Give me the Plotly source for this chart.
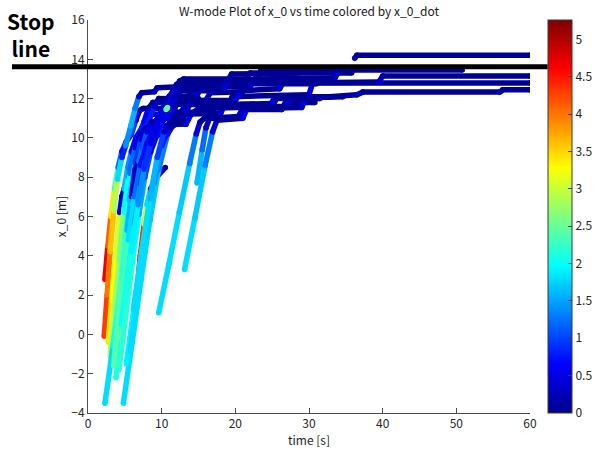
import plotly.graph_objects as go
from plotly.colors import sample_colorscale

# ---- data: each trajectory is a list of (time [s], x_0 [m], x_0_dot [m/s])
traj_red_mid = [(6.1, 0.0, 4.8), (6.6, 2.0, 4.9), (7.1, 4.0, 4.7), (7.6, 5.6, 4.3), (8.0, 6.6, 3.0),
                (8.5, 7.4, 1.8), (9.3, 8.0, 0.5), (10.5, 8.5, 0.2)]
traj_a1 = [(2.3, 2.8, 4.9), (2.7, 4.5, 4.7), (3.1, 6.0, 4.1), (3.6, 7.4, 3.4), (4.1, 8.5, 2.3), (4.6, 9.3, 1.2),
           (5.2, 9.8, 0.5), (5.9, 10.2, 0.3), (6.5, 10.9, 1.0), (7.0, 11.4, 0.6), (7.5, 11.5, 0.05), (10.5, 11.5, 0.05)]
traj_a2 = [(2.2, -0.1, 4.4), (2.6, 2.0, 4.3), (3.0, 4.2, 4.0), (3.5, 6.3, 3.6), (4.0, 7.9, 2.9), (4.6, 9.0, 1.8),
           (5.1, 9.6, 0.8), (5.8, 10.6, 1.4), (6.4, 11.5, 1.6), (6.9, 12.1, 1.3), (7.3, 12.3, 0.3), (9.0, 12.35, 0.05),
           (9.4, 12.55, 0.4), (12.5, 12.6, 0.05)]
traj_a3 = [(2.75, -0.4, 3.4), (3.2, 1.7, 3.4), (3.7, 3.9, 3.3), (4.3, 6.2, 3.1), (4.6, 7.0, 0.6), (4.9, 7.4, 0.3),
           (5.4, 8.5, 1.6), (5.9, 9.3, 1.4), (6.5, 10.0, 0.7), (7.3, 10.5, 0.6), (7.9, 11.0, 0.6), (8.4, 11.2, 0.05),
           (11.5, 11.2, 0.05), (12.0, 11.7, 0.5), (15.5, 11.8, 0.05)]
traj_a4 = [(3.0, -1.1, 2.9), (3.6, 1.2, 2.9), (4.3, 3.8, 2.8), (5.0, 6.2, 2.6), (5.7, 8.2, 2.0), (6.4, 9.5, 1.2),
           (7.1, 10.2, 0.5), (8.0, 10.6, 0.3), (9.0, 11.6, 0.8), (9.6, 12.0, 0.3), (13.5, 12.0, 0.05),
           (14.0, 12.5, 0.5), (18.0, 12.6, 0.05)]
traj_a5 = [(3.3, -0.9, 2.5), (4.0, 1.5, 2.5), (4.8, 4.2, 2.5), (5.6, 6.8, 2.3), (6.4, 8.7, 1.7), (7.2, 9.9, 1.0),
           (8.0, 10.5, 0.4), (9.6, 10.6, 0.05), (10.2, 11.4, 0.8), (11.0, 12.1, 0.6), (11.6, 12.4, 0.2),
           (17.0, 12.4, 0.05), (17.6, 12.8, 0.4), (23.0, 12.85, 0.05), (23.5, 13.45, 0.5), (50.8, 13.45, 0.05)]
traj_a6 = [(2.3, -3.5, 1.6), (3.4, -0.6, 1.8), (4.5, 2.4, 2.0), (5.5, 5.2, 2.0), (6.5, 7.8, 1.7), (7.4, 9.4, 1.1),
           (8.3, 10.2, 0.5), (9.4, 10.4, 0.1), (10.0, 11.0, 0.6), (11.0, 11.8, 0.6), (12.0, 12.3, 0.3),
           (12.5, 12.9, 0.5), (13.0, 13.0, 0.1), (21.5, 13.0, 0.05), (22.0, 13.3, 0.4), (35.8, 13.3, 0.05)]
traj_a7 = [(4.8, -3.5, 1.7), (6.0, -0.4, 1.8), (7.2, 2.8, 1.8), (8.4, 5.8, 1.8), (9.6, 8.4, 1.7), (10.8, 10.2, 1.3),
           (11.8, 10.8, 0.4), (12.8, 10.9, 0.1), (13.5, 11.5, 0.6), (14.2, 11.9, 0.3), (20.0, 11.9, 0.05),
           (20.8, 12.4, 0.5), (26.0, 12.5, 0.05), (26.5, 12.8, 0.4), (39.5, 12.85, 0.05), (40.0, 13.15, 0.4),
           (60.0, 13.15, 0.05)]
traj_a8 = [(3.6, -1.4, 2.2), (4.4, 1.0, 2.3), (5.3, 3.8, 2.3), (6.2, 6.3, 2.1), (7.0, 8.2, 1.6), (7.8, 9.4, 0.9),
           (8.6, 10.0, 0.3), (10.5, 10.3, 0.05), (11.2, 10.9, 0.6), (12.0, 11.3, 0.3), (17.0, 11.3, 0.05)]
traj_a9 = [(3.8, -2.2, 2.0), (4.8, 0.7, 2.1), (5.8, 3.6, 2.1), (6.8, 6.4, 2.0), (7.8, 8.7, 1.6), (8.8, 10.1, 0.9),
           (9.8, 10.6, 0.3), (12.0, 10.7, 0.05), (12.6, 11.3, 0.6), (13.3, 11.7, 0.3), (19.0, 11.7, 0.05),
           (19.6, 12.1, 0.4), (30.0, 12.2, 0.05), (30.5, 12.8, 0.5), (60.0, 12.8, 0.05)]
traj_a10 = [(5.7, -0.9, 1.7), (6.8, 2.0, 1.8), (7.9, 5.0, 1.8), (9.0, 7.7, 1.7), (10.0, 9.6, 1.4), (11.0, 10.5, 0.7),
            (12.0, 10.7, 0.1), (13.3, 10.7, 0.05), (14.0, 11.2, 0.6), (15.0, 11.5, 0.2), (25.0, 11.6, 0.05),
            (25.6, 12.0, 0.4), (34.6, 12.1, 0.05)]
traj_a11 = [(3.5, -1.6, 2.3), (4.0, 0.5, 2.4), (4.6, 2.8, 2.4), (5.3, 5.3, 2.2), (5.9, 7.0, 1.6), (6.4, 8.4, 0.3),
            (6.9, 8.8, 0.3), (7.4, 9.5, 1.3), (8.0, 10.3, 1.1), (8.6, 10.8, 0.5), (10.8, 11.0, 0.05),
            (11.4, 11.6, 0.6), (12.2, 12.0, 0.2), (15.0, 12.0, 0.05)]
traj_a12 = [(6.15, 1.27, 1.8), (7.3, 4.2, 1.8), (8.4, 6.9, 1.8), (9.4, 9.0, 1.6), (10.3, 10.3, 1.0),
            (11.2, 10.8, 0.3), (13.0, 10.9, 0.05)]
traj_a13 = [(3.1, -0.6, 3.0), (3.7, 1.8, 3.0), (4.3, 4.2, 2.9), (4.9, 6.4, 2.7), (5.5, 8.0, 2.1), (6.1, 9.2, 1.3),
            (6.8, 10.0, 0.6), (7.6, 10.8, 0.8), (8.2, 11.5, 0.6), (8.8, 11.8, 0.05), (16.0, 11.9, 0.05),
            (16.6, 12.3, 0.4), (21.0, 12.35, 0.05)]
traj_a14 = [(4.2, -1.8, 2.1), (5.1, 0.9, 2.2), (6.0, 3.6, 2.2), (6.9, 6.1, 2.0), (7.7, 8.0, 1.5), (8.5, 9.3, 1.0),
            (9.3, 10.1, 0.5), (10.2, 10.9, 0.7), (10.9, 11.6, 0.5), (11.5, 12.2, 0.4), (12.0, 12.7, 0.4),
            (12.5, 12.9, 0.05), (19.0, 12.95, 0.05), (19.5, 13.25, 0.4), (28.5, 13.3, 0.05)]
traj_a15 = [(5.2, -1.5, 1.9), (6.3, 1.5, 1.9), (7.4, 4.4, 1.9), (8.5, 7.0, 1.8), (9.5, 9.0, 1.4), (10.4, 10.2, 0.9),
            (11.3, 10.9, 0.4), (12.3, 11.2, 0.05), (18.0, 11.25, 0.05), (18.6, 11.7, 0.5), (24.9, 11.75, 0.05),
            (25.4, 12.1, 0.4), (33.0, 12.1, 0.05)]
traj_a16 = [(4.5, 0.5, 2.0), (5.4, 3.0, 2.0), (6.3, 5.6, 1.9), (7.1, 7.6, 1.5), (7.8, 8.9, 1.0), (8.6, 9.9, 0.8),
            (9.4, 10.5, 0.5), (10.5, 11.2, 0.6), (11.5, 11.9, 0.5), (12.5, 12.4, 0.3), (13.2, 12.6, 0.05),
            (22.0, 12.6, 0.05), (22.6, 13.0, 0.4), (33.5, 13.05, 0.05), (34.2, 13.45, 0.4), (36.0, 13.45, 0.05)]
traj_a17 = [(3.9, 0.8, 2.6), (4.6, 3.2, 2.6), (5.3, 5.5, 2.4), (6.0, 7.4, 1.9), (6.7, 8.7, 1.1), (7.5, 9.6, 0.7),
            (8.4, 10.3, 0.5), (9.3, 10.9, 0.5), (10.1, 11.5, 0.5), (10.8, 11.9, 0.3), (11.8, 12.1, 0.05),
            (14.8, 12.15, 0.05), (15.3, 12.6, 0.4), (20.0, 12.7, 0.05)]
traj_a18 = [(4.0, -0.2, 2.4), (4.7, 2.2, 2.4), (5.5, 4.8, 2.3), (6.3, 7.0, 1.8), (7.1, 8.6, 1.2), (8.0, 9.7, 0.7),
            (9.0, 10.5, 0.5), (10.0, 11.2, 0.5), (11.0, 11.8, 0.5), (12.0, 12.3, 0.4), (13.0, 12.7, 0.3),
            (14.0, 12.75, 0.05), (31.0, 12.75, 0.05)]
traj_a19 = [(5.0, 1.6, 2.1), (5.9, 4.2, 2.1), (6.8, 6.6, 1.9), (7.6, 8.4, 1.4), (8.5, 9.7, 0.9), (9.5, 10.6, 0.5),
            (10.6, 11.4, 0.5), (11.8, 12.1, 0.4), (13.0, 12.5, 0.2), (18.5, 12.55, 0.05), (19.0, 12.95, 0.4),
            (33.0, 13.0, 0.05)]
traj_b1 = [(9.6, 1.1, 1.7), (11.0, 3.6, 1.8), (12.4, 6.2, 1.8), (13.8, 8.7, 1.7), (14.7, 10.2, 1.3),
           (15.2, 10.8, 0.5), (15.8, 11.0, 0.1), (20.3, 11.0, 0.05), (20.9, 11.45, 0.5), (26.3, 11.45, 0.05),
           (26.8, 11.8, 0.4), (30.8, 11.8, 0.05)]
traj_b2 = [(13.1, 3.3, 1.7), (14.5, 5.9, 1.8), (15.9, 8.6, 1.7), (16.9, 10.3, 1.3), (17.5, 10.9, 0.4),
           (21.0, 11.0, 0.05), (21.6, 11.5, 0.5), (29.0, 11.55, 0.05), (29.6, 12.0, 0.4), (36.5, 12.2, 0.1),
           (37.3, 12.33, 0.3), (55.9, 12.33, 0.05), (56.3, 12.45, 0.4), (60.0, 12.45, 0.05)]
traj_b3 = [(14.8, 7.7, 1.6), (15.5, 9.4, 1.6), (16.0, 10.5, 1.2), (16.5, 11.0, 0.3), (21.0, 11.1, 0.05),
           (21.6, 11.6, 0.4), (27.0, 11.6, 0.05), (27.5, 12.0, 0.4), (31.5, 12.0, 0.05)]
traj_top = [(36.2, 14.05, 0.8), (36.5, 14.2, 0.3), (60.0, 14.2, 0.05)]
traj_dot = [(10.6, 11.45, 2.5), (10.8, 11.55, 2.5)]

STOP_LINE_X0 = 13.62
V_MAX = 5.26
x_ticks = [0, 10, 20, 30, 40, 50, 60]
y_ticks = [-4, -2, 0, 2, 4, 6, 8, 10, 12, 14, 16]
cbar_ticks = [0, 0.5, 1, 1.5, 2, 2.5, 3, 3.5, 4, 4.5, 5]

trajectories = [traj_red_mid, traj_a1, traj_a2, traj_a3, traj_a13, traj_a4, traj_a5, traj_a17, traj_a6, traj_a8,
                traj_a9, traj_a11, traj_a18, traj_a16, traj_a14, traj_a19, traj_a7, traj_a15, traj_a10, traj_a12,
                traj_b1, traj_b3, traj_b2, traj_top, traj_dot]

JET = [[0.0, 'rgb(0,0,140)'], [0.125, 'rgb(0,0,255)'], [0.375, 'rgb(0,255,255)'],
       [0.625, 'rgb(255,255,0)'], [0.875, 'rgb(255,0,0)'], [1.0, 'rgb(128,0,0)']]

FONT = "Noto Sans CJK JP"
LW = 5.5

fig = go.Figure()
for tr in trajectories:
    for k in range(len(tr) - 1):
        t0, x0, _ = tr[k]
        t1, x1, v1 = tr[k + 1]
        c = sample_colorscale(JET, [min(max(v1 / V_MAX, 0), 1)])[0]
        fig.add_trace(go.Scatter(
            x=[t0, t1], y=[x0, x1], mode='lines+markers',
            line=dict(color=c, width=LW),
            marker=dict(color=c, size=LW, line=dict(width=0)),
            showlegend=False, hoverinfo='skip'))

# colorbar carrier
all_t = [p[0] for tr in trajectories for p in tr]
all_x = [p[1] for tr in trajectories for p in tr]
all_v = [p[2] for tr in trajectories for p in tr]
fig.add_trace(go.Scatter(
    x=all_t, y=all_x, mode='markers', showlegend=False, hoverinfo='skip',
    marker=dict(color=all_v, colorscale=JET, cmin=0, cmax=V_MAX, size=0.1, opacity=0,
                showscale=True,
                colorbar=dict(x=1.0407, xanchor='left', xpad=0, y=0.5, yanchor='middle', len=1.0,
                              lenmode='fraction', thickness=24, thicknessmode='pixels',
                              outlinewidth=1, outlinecolor='#3a3a3a',
                              tickvals=cbar_ticks, ticks='inside', ticklen=4, tickcolor='#3a3a3a',
                              tickfont=dict(family=FONT, size=12, color='#262626'),
                              ypad=0))))

fig.add_shape(type='line', xref='paper', yref='y', x0=-0.172, x1=1.04, y0=STOP_LINE_X0, y1=STOP_LINE_X0,
              line=dict(color='black', width=5), layer='above')

fig.add_annotation(text="<b>Stop<br>line</b>", xref='paper', yref='paper', x=-0.129, y=0.963,
                   xanchor='center', yanchor='middle', showarrow=False, align='center',
                   font=dict(family=FONT, size=21, color='black'))

fig.update_layout(
    width=597, height=458,
    margin=dict(l=88, r=67, t=20, b=45, autoexpand=False),
    paper_bgcolor='white', plot_bgcolor='white',
    title=dict(text="W-mode Plot of x_0 vs time colored by x_0_dot", x=0.5, xref='paper',
               y=0.975, yanchor='middle', font=dict(family=FONT, size=12, color='#1a1a1a')),
    xaxis=dict(range=[0, 60], tickvals=x_ticks, ticks='inside', ticklen=5, tickcolor='#4d4d4d',
               showline=True, linecolor='#4d4d4d', linewidth=1, showgrid=False, zeroline=False,
               automargin=False,
               tickfont=dict(family=FONT, size=12, color='#262626'),
               title=dict(text="time [s]", standoff=4, font=dict(family=FONT, size=12, color='#262626'))),
    yaxis=dict(range=[-4, 16], tickvals=y_ticks, ticks='inside', ticklen=5, tickcolor='#4d4d4d',
               showline=True, linecolor='#4d4d4d', linewidth=1, showgrid=False, zeroline=False,
               automargin=False,
               tickfont=dict(family=FONT, size=12, color='#262626'),
               title=dict(text="x_0 [m]", standoff=2, font=dict(family=FONT, size=12, color='#262626'))),
)

fig.write_html("out.html", config={'displayModeBar': False},
               post_script="document.body.style.margin='0px';")
